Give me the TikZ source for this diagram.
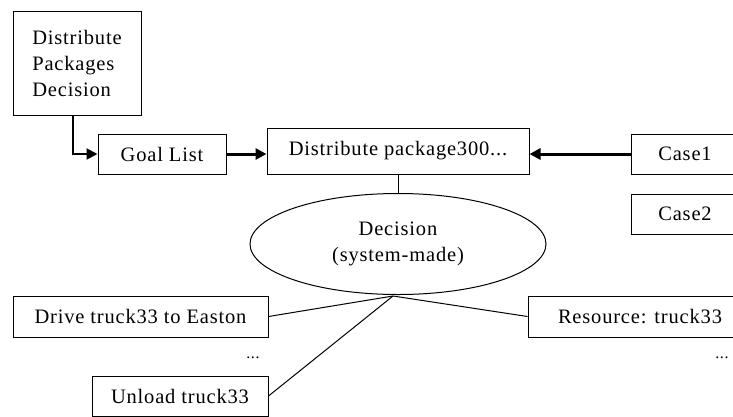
\documentclass[tikz,border=0pt]{standalone}
\usepackage{fontspec}
\setmainfont[LetterSpace=4]{Liberation Serif}
\usetikzlibrary{shapes.geometric,arrows.meta}

\tikzset{
  box/.style={draw, rectangle, line width=1pt, inner sep=0pt, font=\fontsize{20.5}{26}\selectfont},
  arr/.style={line width=3pt, -{Triangle[length=11pt,width=11pt]}},
  link/.style={line width=1pt}
}

\begin{document}
\begin{tikzpicture}[x=1pt,y=-1pt]
\useasboundingbox (0,0) rectangle (733,416);
\clip (0,0) rectangle (733,416);

% Top row
\node[box, minimum width=128, minimum height=104, align=left] (dpd) at (77,63) {Distribute\\Packages\\Decision};
\node[box, minimum width=128, minimum height=40] (goal) at (162,154) {Goal List};
\node[box, minimum width=262, minimum height=46] (dist) at (398,151) {Distribute package300...};

% Cases
\def\x{685}
\foreach \y/\n in {154/1,214/2} {
\node[box, minimum width=108, minimum height=40] (case\n) at (\x,\y) {Case\n};
}

% Decision
\node[draw, ellipse, line width=1pt, minimum width=296, minimum height=101, align=center, font=\fontsize{20.5}{26}\selectfont] (dec) at (398,244) {Decision\\(system-made)};
\coordinate (hub) at (393,296);

% Bottom row
\node[box, minimum width=255, minimum height=41] (drive) at (140.5,316.5) {Drive truck33 to Easton};
\node[box, minimum width=176, minimum height=40] (unload) at (180,396) {Unload truck33};
\node[box, minimum width=224, minimum height=41] (res) at (640,316.5) {Resource: truck33};
\node[font=\fontsize{16}{20}\selectfont] (dots1) at (253,358) {...};
\node[font=\fontsize{16}{20}\selectfont] (dots2) at (722,358) {...};

% Connectors
\draw[line width=2pt, -{Triangle[length=11pt,width=11pt]}] (dpd.south -| 73,0) |- (goal.west);
\draw[arr] (goal.east) -- (goal.east -| dist.west);
\draw[arr] (case1.west) -- (case1.west -| dist.east);
\draw[link] (dist.south) -- (dec.north);
\draw[link] (hub) -- (drive.east);
\draw[link] (hub) -- (unload.east);
\draw[link] (hub) -- (res.west);
\end{tikzpicture}
\end{document}
